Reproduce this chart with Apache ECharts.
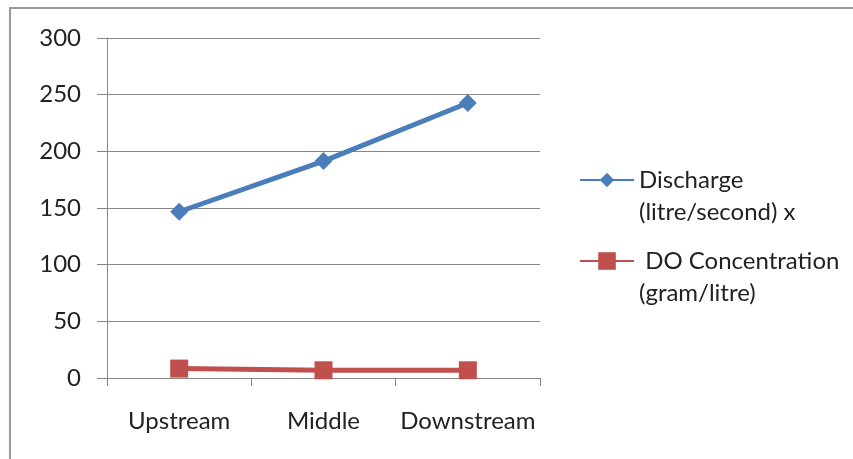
<!DOCTYPE html>
<html>
<head>
<meta charset="utf-8">
<script src="https://cdn.jsdelivr.net/npm/echarts@6/dist/echarts.min.js"></script>
<style>
html,body{margin:0;padding:0;background:#fff;}
#c{width:853px;height:459px;}
</style>
</head>
<body>
<div id="c"></div>
<script>
var categories = ['Upstream', 'Middle', 'Downstream'];
var dischargeName = 'Discharge (litre/second) x';
var doName = 'DO Concentration (gram/litre)';
var discharge = [146.7, 191.4, 242.6];
var doConc = [8.3, 6.8, 6.8];
var yTicks = [0, 50, 100, 150, 200, 250, 300];

var legendLabels = {};
legendLabels[dischargeName] = '\nDischarge\n(litre/second) x';
legendLabels[doName] = '\n DO Concentration\n(gram/litre)';

var FONT = 'Lato';
var chart = echarts.init(document.getElementById('c'));
var legendText = {
  fontFamily: FONT, fontSize: 24, color: '#222', lineHeight: 32
};
chart.setOption({
  animation: false,
  backgroundColor: '#fff',
  graphic: [{
    type: 'rect', shape: {x: 10, y: 8, width: 900, height: 500},
    style: {fill: 'none', stroke: '#9a9a9a', lineWidth: 2}, silent: true
  }],
  legend: [{
    data: [dischargeName], orient: 'vertical', left: 579, top: 132, padding: 0,
    itemWidth: 54, itemHeight: 18, itemGap: 5,
    formatter: function (n) { return legendLabels[n]; },
    textStyle: legendText
  }, {
    data: [doName], orient: 'vertical', left: 579, top: 213, padding: 0,
    itemWidth: 54, itemHeight: 22, itemGap: 5,
    formatter: function (n) { return legendLabels[n]; },
    textStyle: legendText
  }],
  grid: {left: 107, right: 313, top: 38, bottom: 81, containLabel: false},
  xAxis: {
    type: 'category', data: categories, boundaryGap: true,
    axisLine: {lineStyle: {color: '#868686', width: 1}},
    axisTick: {show: true, length: 8, lineStyle: {color: '#868686'}},
    axisLabel: {fontFamily: FONT, fontSize: 24, color: '#222', margin: 31, interval: 0}
  },
  yAxis: {
    type: 'value', min: 0, max: 300, interval: 50,
    axisLine: {show: true, lineStyle: {color: '#868686', width: 1}},
    axisTick: {show: true, length: 10, lineStyle: {color: '#868686'}},
    splitLine: {show: true, lineStyle: {color: '#868686', width: 1}},
    axisLabel: {fontFamily: FONT, fontSize: 24, color: '#222', margin: 26,
      formatter: function (v) { return yTicks.indexOf(v) >= 0 ? String(v) : ''; }}
  },
  series: [{
    name: dischargeName, type: 'line', data: discharge,
    symbol: 'diamond', symbolSize: 18,
    lineStyle: {color: '#4A7EBB', width: 5},
    itemStyle: {color: '#4A7EBB'}
  }, {
    name: doName, type: 'line', data: doConc,
    symbol: 'rect', symbolSize: 18,
    lineStyle: {color: '#C0504D', width: 5},
    itemStyle: {color: '#C0504D'}
  }]
});
</script>
</body>
</html>
